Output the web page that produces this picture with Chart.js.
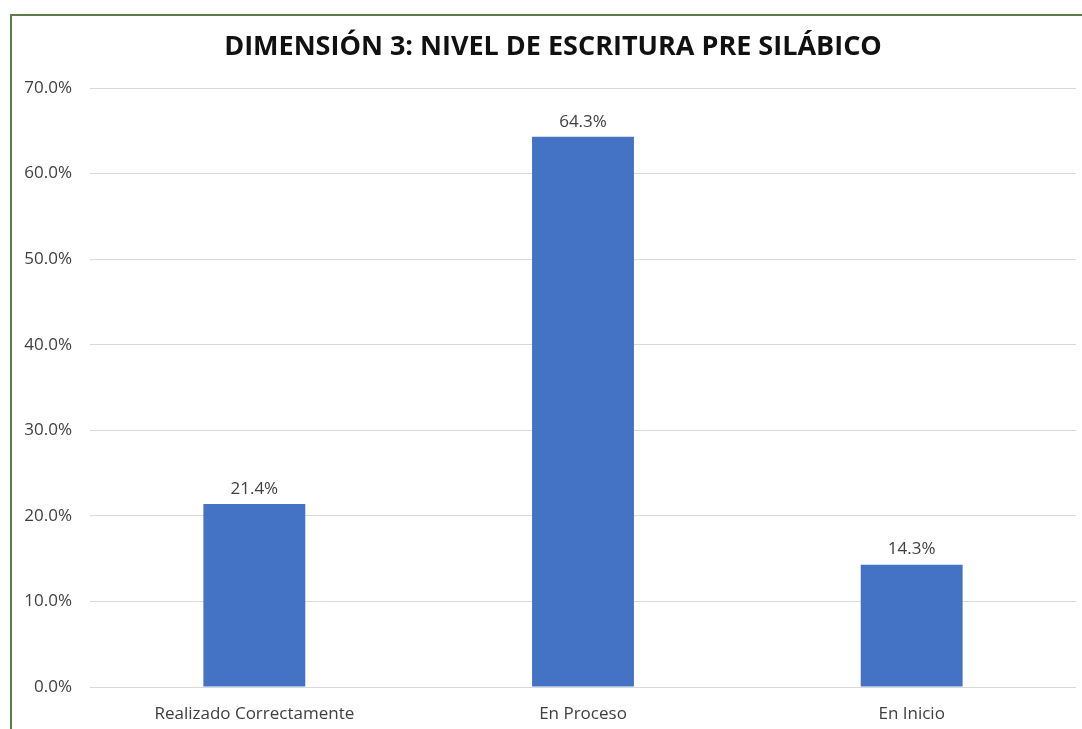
<!DOCTYPE html>
<html>
<head>
<meta charset="utf-8">
<script src="https://cdn.jsdelivr.net/npm/chart.js@4/dist/chart.umd.min.js"></script>
<style>
  html, body { margin: 0; padding: 0; background: #fff; }
  #wrap { position: relative; width: 1082px; height: 729px; overflow: hidden; }
  #frame { position: absolute; left: 10px; top: 14px; width: 1100px; height: 760px;
           border-left: 2px solid #5e7d46; border-top: 2px solid #5e7d46; box-sizing: border-box; }
  canvas { position: absolute; left: 0; top: 0; }
</style>
</head>
<body>
<div id="wrap">
  <div id="frame"></div>
  <canvas id="chart" width="1082" height="729"></canvas>
</div>
<script>
const categories = ['Realizado Correctamente', 'En Proceso', 'En Inicio'];
const values = [21.4, 64.3, 14.3];
const titleText = 'DIMENSIÓN 3: NIVEL DE ESCRITURA PRE SILÁBICO';

const textColor = '#404040';
const fontFamily = 'Open Sans, sans-serif';

// title (centred on the framed box) and labels above each bar
const barLabels = {
    id: 'barLabels',
    afterDatasetsDraw(chart) {
        const ctx = chart.ctx;
        const meta = chart.getDatasetMeta(0);
        ctx.save();
        ctx.textAlign = 'center';
        ctx.textBaseline = 'middle';

        ctx.font = 'bold 27px ' + fontFamily;
        ctx.fillStyle = '#111';
        ctx.fillText(titleText, 553, 47);

        ctx.font = '17px ' + fontFamily;
        ctx.fillStyle = textColor;
        meta.data.forEach((bar, i) => {
            ctx.fillText(values[i].toFixed(1) + '%', bar.x, bar.y - 15);
        });
        ctx.restore();
    }
};

const chart = document.querySelector('#chart').getContext('2d');

new Chart(chart, {
    type: 'bar',
    data: {
        labels: categories,
        datasets: [
            {
                data: values,
                backgroundColor: '#4472C4',
                borderWidth: 0,
                barPercentage: 0.31,
                categoryPercentage: 1
            }
        ]
    },
    options: {
        responsive: false,
        animation: false,
        layout: { padding: { left: 0, right: 6, top: 88, bottom: 0 } },
        plugins: {
            legend: { display: false },
            tooltip: { enabled: false },
            title: { display: false }
        },
        scales: {
            x: {
                afterFit(scale) { scale.height = 42; },
                grid: { display: false, drawTicks: false },
                border: { display: false },
                ticks: { color: textColor, font: { family: fontFamily, size: 17 }, padding: 17 }
            },
            y: {
                min: 0,
                max: 70,
                afterFit(scale) { scale.width = 90; },
                grid: { color: '#d9d9d9', drawTicks: false },
                border: { display: false },
                ticks: {
                    stepSize: 10,
                    color: textColor,
                    font: { family: fontFamily, size: 17 },
                    padding: 18,
                    callback: v => v.toFixed(1) + '%'
                }
            }
        }
    },
    plugins: [barLabels]
});
</script>
</body>
</html>
